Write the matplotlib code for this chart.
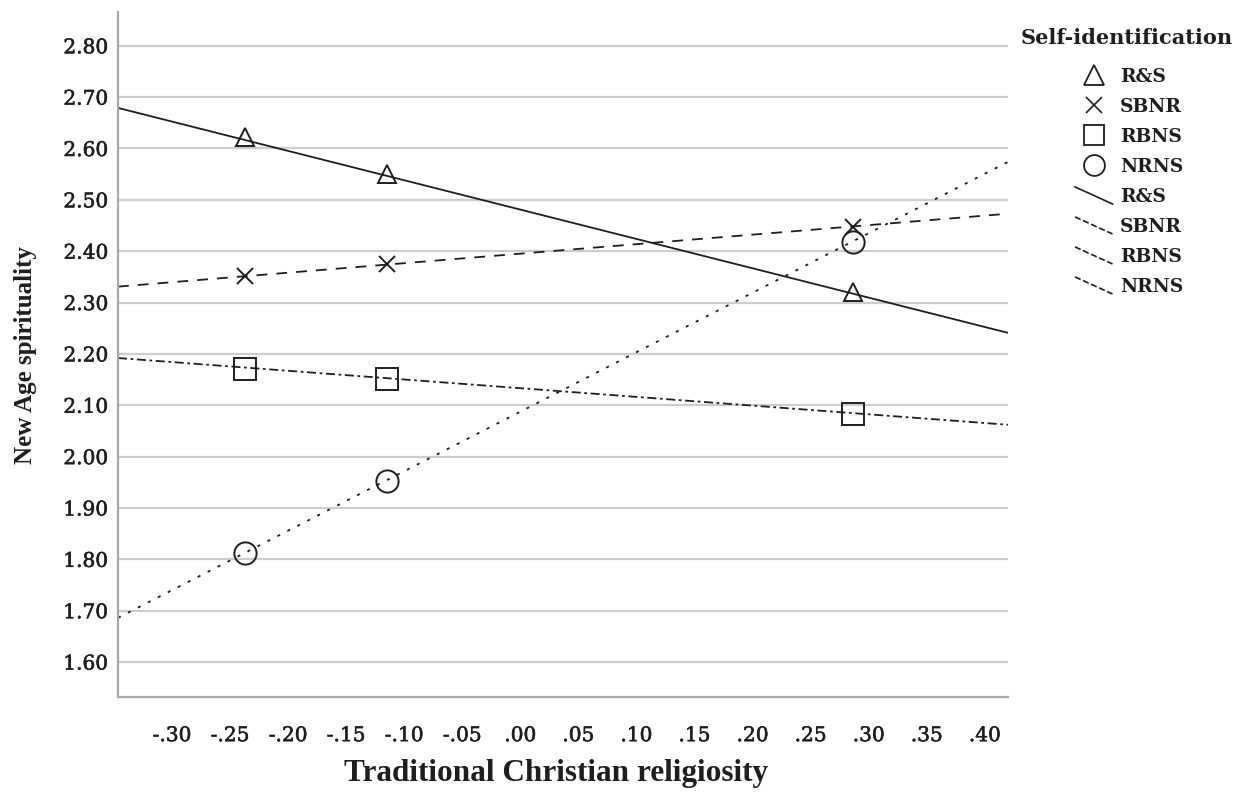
import matplotlib
matplotlib.use("Agg")
import matplotlib.pyplot as plt
import matplotlib.patheffects as pe
from matplotlib.lines import Line2D
from matplotlib.legend_handler import HandlerBase

# observed group means at three levels of traditional religiosity
groups = ["R&S", "SBNR", "RBNS", "NRNS"]
point_x = [-0.237, -0.115, 0.2865]
rs_means = [2.623, 2.551, 2.321]
sbnr_means = [2.352, 2.375, 2.447]
rbns_means = [2.171, 2.151, 2.083]
nrns_means = [1.812, 1.953, 2.418]

# fitted lines, value at left and right edge of the x range
fit_x = [-0.3465, 0.42]
rs_fit = [2.679, 2.241]
sbnr_fit = [2.331, 2.473]
rbns_fit = [2.192, 2.062]
nrns_fit = [1.686, 2.574]

y_ticks = [1.60, 1.70, 1.80, 1.90, 2.00, 2.10, 2.20, 2.30, 2.40, 2.50, 2.60, 2.70, 2.80]
x_ticks = [-0.30, -0.25, -0.20, -0.15, -0.10, -0.05, 0.00, 0.05, 0.10, 0.15, 0.20, 0.25, 0.30, 0.35, 0.40]
x_labels = ["-.30", "-.25", "-.20", "-.15", "-.10", "-.05", ".00", ".05", ".10",
            ".15", ".20", ".25", ".30", ".35", ".40"]

means = [rs_means, sbnr_means, rbns_means, nrns_means]
fits = [rs_fit, sbnr_fit, rbns_fit, nrns_fit]
markers = [("^", 13), ("x", 12), ("s", 16.5), ("o", 16)]
styles = ["-", (0, (6, 5)), (0, (5, 2, 1.5, 2)), (0, (1.7, 4.5))]
ink = "#1e1e1e"


class SlantHandler(HandlerBase):
    # SPSS-style diagonal line sample in the legend
    def create_artists(self, legend, orig_handle, xdescent, ydescent,
                       width, height, fontsize, trans):
        ln = Line2D([-xdescent, width - xdescent],
                    [height * 1.15 - ydescent, -0.15 * height - ydescent],
                    linestyle=orig_handle.get_linestyle(),
                    color=orig_handle.get_color(), lw=orig_handle.get_linewidth())
        ln.set_transform(trans)
        return [ln]


fig = plt.figure(figsize=(12.51, 7.92), dpi=100)
ax = fig.add_axes([0.0943, 0.120, 0.7115, 0.865])

for yt in y_ticks:
    ax.axhline(yt, color="#cdcdcd", lw=1.6, zorder=0)

for fy, st in zip(fits, styles):
    ax.plot(fit_x, fy, color=ink, lw=1.3, linestyle=st, zorder=2)

for my, (m, ms) in zip(means, markers):
    if m == "x":
        ax.plot(point_x, my, linestyle="none", marker=m, ms=ms, mew=1.4,
                color=ink, zorder=3)
    else:
        ax.plot(point_x, my, linestyle="none", marker=m, ms=ms, mew=1.4,
                mfc="none", mec=ink, zorder=3)

ax.set_xlim(fit_x[0], fit_x[1])
ax.set_ylim(1.532, 2.866)
ax.set_yticks(y_ticks)
ax.set_yticklabels(["%.2f" % v for v in y_ticks])
ax.set_xticks(x_ticks)
ax.set_xticklabels(x_labels)
ax.tick_params(length=0, labelsize=14.5, colors=ink)
ax.tick_params(axis="y", pad=7)
ax.tick_params(axis="x", pad=21)
bold_fx = [pe.withStroke(linewidth=0.4, foreground=ink)]
for lab in ax.get_xticklabels() + ax.get_yticklabels():
    lab.set_family("DejaVu Serif")
    lab.set_path_effects(bold_fx)

for s in ["top", "right"]:
    ax.spines[s].set_visible(False)
for s in ["left", "bottom"]:
    ax.spines[s].set_color("#a8a8a8")
    ax.spines[s].set_linewidth(1.6)

ax.set_xlabel("Traditional Christian religiosity", family="Liberation Serif",
              fontweight="bold", fontsize=22.5, color=ink)
ax.xaxis.set_label_coords(0.492, -0.111)
ax.xaxis.label.set_va("center")
ax.set_ylabel("New Age spirituality", family="Liberation Serif",
              fontweight="bold", fontsize=18, color=ink)
ax.yaxis.set_label_coords(-0.104, 0.499)
ax.yaxis.label.set_va("center")

handles = []
labels = []
for g, (m, ms) in zip(groups, markers):
    if m == "x":
        handles.append(Line2D([], [], linestyle="none", marker=m, ms=11,
                              mew=1.2, color=ink))
    else:
        handles.append(Line2D([], [], linestyle="none", marker=m, ms=15 if m != "^" else 14,
                              mew=1.3, mfc="none", mec=ink))
    labels.append(g)
slant = SlantHandler()
hmap = {}
for g, st in zip(groups, styles):
    h = Line2D([], [], color=ink, lw=1.2, linestyle=st)
    handles.append(h)
    labels.append(g)
    hmap[h] = slant

leg = fig.legend(handles, labels, handler_map=hmap, loc="upper left",
                 bbox_to_anchor=(1075 / 1251, 1 - 68 / 792), frameon=False,
                 prop={"family": "DejaVu Serif", "weight": "bold", "size": 13.5},
                 handlelength=2.0, handletextpad=0.4, labelspacing=0.64,
                 borderpad=0, borderaxespad=0)
for t in leg.get_texts():
    t.set_color(ink)

fig.text(1021 / 1251, 1 - 38 / 792, "Self-identification", family="DejaVu Serif",
         fontweight="bold", fontsize=15, color=ink, ha="left", va="center")

fig.savefig("out.png", dpi=100)
